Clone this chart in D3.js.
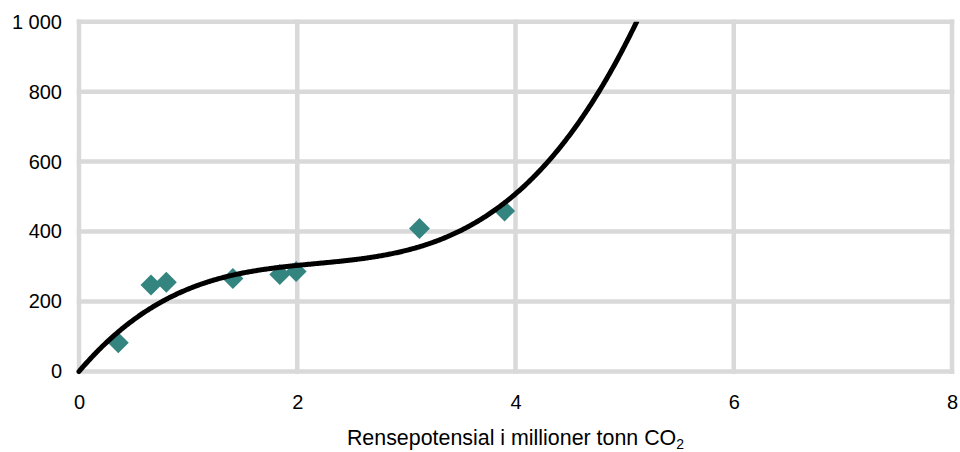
<!DOCTYPE html>
<html>
<head>
<meta charset="utf-8">
<script src="https://cdn.jsdelivr.net/npm/d3@7"></script>
<style>
  html, body { margin: 0; padding: 0; background: #fff; }
  svg { display: block; font-family: "Liberation Sans", Arial, sans-serif; }
</style>
</head>
<body>
<svg id="chart" width="960" height="452"></svg>
<script>
// Data points (x: Rensepotensial i millioner tonn CO2, y: cost)
const pointsX = [0.36, 0.66, 0.80, 1.41, 1.84, 1.99, 3.12, 3.90];
const pointsY = [82, 247, 255, 266, 277, 286, 409, 459];
// Polynomial trendline coefficients: y = c1*x + c2*x^2 + c3*x^3
const trendCoefs = [367.3, -155.57, 23.87];
const xTicks = [0, 2, 4, 6, 8];
const yTicks = [0, 200, 400, 600, 800, 1000];
const xTitle = "Rensepotensial i millioner tonn CO";
const xTitleSub = "2";

(function () {
const svg = d3.select("#chart");
const mLeft = 79, mRight = 952, mTop = 21.7, mBottom = 371.5;

const x = d3.scaleLinear().domain([0, 8]).range([mLeft, mRight]);
const y = d3.scaleLinear().domain([0, 1000]).range([mBottom, mTop]);

const gridColor = "#d9d9d9";
const fmt = v => d3.format(",")(v).replace(/,/g, "\u00a0");

// Gridlines
const grid = svg.append("g");
grid.selectAll("line.h").data(yTicks).join("line").attr("class", "h")
  .attr("x1", x(0) - 2.25).attr("x2", x(8) + 2.25)
  .attr("y1", d => y(d)).attr("y2", d => y(d))
  .attr("stroke", gridColor).attr("stroke-width", 4.5);
grid.selectAll("line.v").data(xTicks).join("line").attr("class", "v")
  .attr("y1", y(0) + 2.25).attr("y2", y(1000) - 2.25)
  .attr("x1", d => x(d)).attr("x2", d => x(d))
  .attr("stroke", gridColor).attr("stroke-width", 4.5);

// Axes (labels only)
const yAxis = svg.append("g").attr("transform", `translate(${mLeft},0)`)
  .call(d3.axisLeft(y).tickValues(yTicks).tickSize(0).tickPadding(17).tickFormat(fmt));
const xAxis = svg.append("g").attr("transform", `translate(0,${mBottom})`)
  .call(d3.axisBottom(x).tickValues(xTicks).tickSize(0).tickPadding(23).tickFormat(d3.format("d")));
[yAxis, xAxis].forEach(a => {
  a.select(".domain").remove();
  a.selectAll("text").attr("font-size", 20).attr("fill", "#000")
    .attr("font-family", "'Liberation Sans', Arial, sans-serif");
});

// Axis title
const t = svg.append("text")
  .attr("x", (mLeft + mRight) / 2).attr("y", 445)
  .attr("text-anchor", "middle")
  .attr("font-size", 21.4).attr("fill", "#000");
t.append("tspan").text(xTitle);
t.append("tspan").attr("font-size", 14).attr("dy", 4).text(xTitleSub);

// Points (diamonds)
const pts = pointsX.map((d, i) => ({x: d, y: pointsY[i]}));
const diamond = d3.symbol().type(d3.symbolSquare).size(220);
svg.append("g").selectAll("path").data(pts).join("path")
  .attr("d", diamond)
  .attr("transform", d => `translate(${x(d.x)},${y(d.y)}) rotate(45)`)
  .attr("fill", "#348480");

// Trendline
const f = v => trendCoefs[0] * v + trendCoefs[1] * v * v + trendCoefs[2] * v * v * v;
const xs = d3.range(0, 8.0001, 0.01).filter(v => f(v) <= 1000.5);
svg.append("clipPath").attr("id", "clip").append("rect")
  .attr("x", mLeft - 3).attr("y", mTop).attr("width", mRight - mLeft).attr("height", mBottom - mTop + 3);
svg.append("path")
  .datum(xs)
  .attr("clip-path", "url(#clip)")
  .attr("d", d3.line().x(v => x(v)).y(v => y(f(v))))
  .attr("fill", "none").attr("stroke", "#000").attr("stroke-width", 5)
  .attr("stroke-linecap", "round");
})();
</script>
</body>
</html>
